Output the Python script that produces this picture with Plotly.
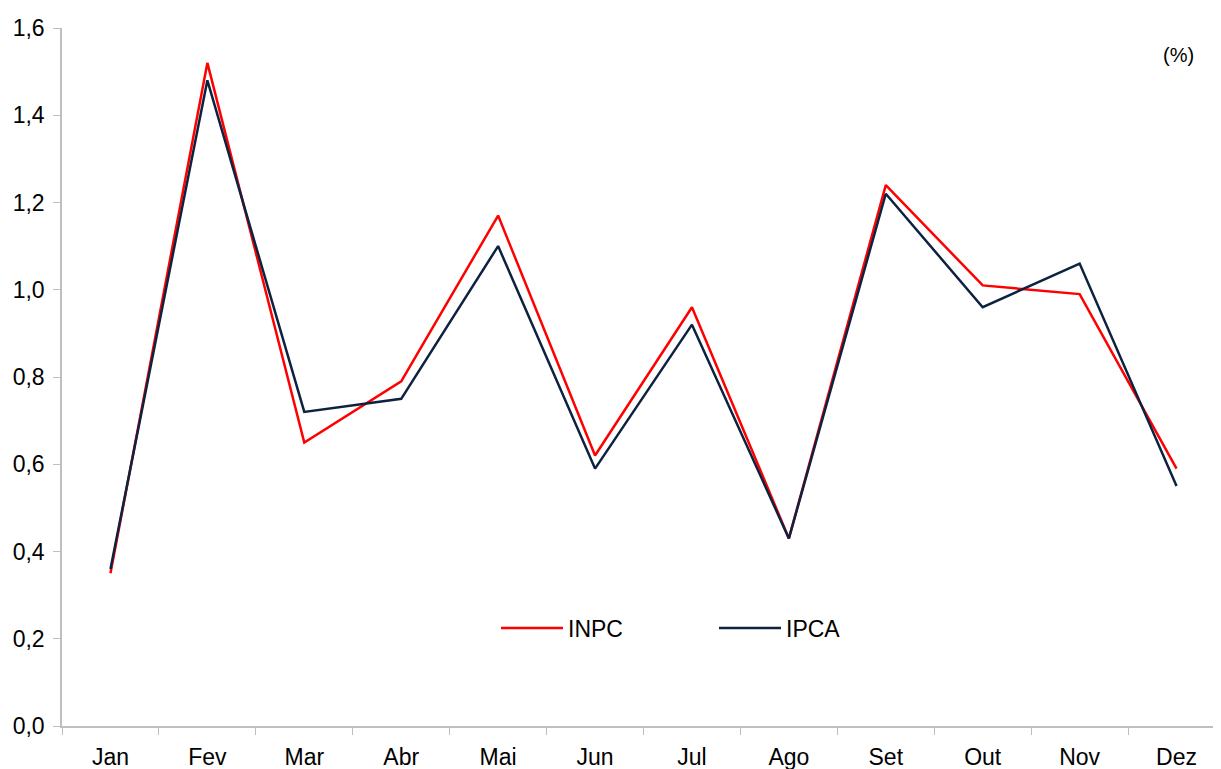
import plotly.graph_objects as go

months = ["Jan", "Fev", "Mar", "Abr", "Mai", "Jun", "Jul", "Ago", "Set", "Out", "Nov", "Dez"]
inpc = [0.35, 1.52, 0.65, 0.79, 1.17, 0.62, 0.96, 0.43, 1.24, 1.01, 0.99, 0.59]
ipca = [0.36, 1.48, 0.72, 0.75, 1.10, 0.59, 0.92, 0.43, 1.22, 0.96, 1.06, 0.55]
y_ticks = [0.0, 0.2, 0.4, 0.6, 0.8, 1.0, 1.2, 1.4, 1.6]
y_labels = [f"{v:.1f}".replace(".", ",") for v in y_ticks]

fig = go.Figure()
fig.add_trace(go.Scatter(x=months, y=inpc, mode="lines", name="INPC",
                         line=dict(color="#FF0000", width=2.5)))
fig.add_trace(go.Scatter(x=months, y=ipca, mode="lines", name="IPCA",
                         line=dict(color="#0D2240", width=2.5)))

font_family = "Liberation Sans Narrow, Arial Narrow, Liberation Sans, Arial, sans-serif"
# the page body has an 8px margin, so offsets compensate for it
L, T, B, R = 54, 20, 51, 4
PW, PH = 1221 - L - R, 769 - T - B

fig.update_layout(
    width=1221, height=769,
    margin=dict(l=L, r=R, t=T, b=B, autoexpand=False),
    paper_bgcolor="white", plot_bgcolor="white",
    font=dict(family=font_family, size=23, color="black"),
    showlegend=True,
    legend=dict(orientation="h", x=(488 - L) / PW, y=(718 - 620) / PH,
                xanchor="left", yanchor="middle",
                font=dict(size=23), itemwidth=62, entrywidth=141,
                bgcolor="rgba(0,0,0,0)"),
    xaxis=dict(type="category", tickson="boundaries", ticks="outside", ticklen=7,
               tickcolor="#BFBFBF", showline=True, linecolor="#BFBFBF", linewidth=1.5,
               showgrid=False, zeroline=False, tickfont=dict(size=23),
               ticklabelstandoff=10,
               range=[-0.5, 11.5], automargin=False),
    yaxis=dict(range=[0, 1.6], tickvals=y_ticks, ticktext=y_labels, ticks="outside",
               ticklen=7, tickcolor="#BFBFBF", showline=True, linecolor="#BFBFBF",
               linewidth=1.5, showgrid=False, zeroline=False, tickfont=dict(size=23),
               ticklabelstandoff=4, automargin=False),
    annotations=[dict(text="(%)", x=(1170 - L) / PW, y=(718 - 47) / PH,
                      xref="paper", yref="paper", xanchor="center", yanchor="middle",
                      showarrow=False, font=dict(size=20))],
)

fig.write_html("out.html")
